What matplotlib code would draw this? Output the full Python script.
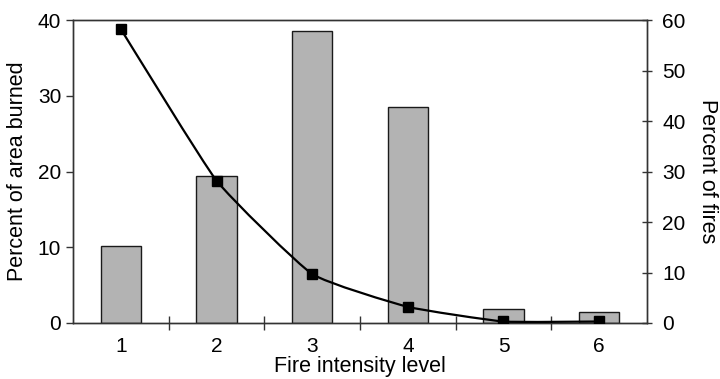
import matplotlib
matplotlib.use("Agg")
import matplotlib.pyplot as plt
from matplotlib.path import Path
import matplotlib.patches as patches
import numpy as np

plt.rcParams['font.family'] = ['Liberation Sans', 'DejaVu Sans']

# data
levels = [1, 2, 3, 4, 5, 6]
area_burned = [10.2, 19.4, 38.5, 28.5, 1.9, 1.5]     # left axis, bars
pct_fires = [58.2, 28.2, 9.7, 3.2, 0.3, 0.3]          # right axis, line

SPINE = '#333333'
FS = 15

fig = plt.figure(figsize=(7.2, 3.79), dpi=100)
ax = fig.add_axes([73/720, 1 - 323/379, 574/720, 303/379])
ax2 = ax.twinx()

ax.bar(levels, area_burned, width=0.42, color='#b3b3b3', edgecolor='#1a1a1a',
       linewidth=1.0, zorder=2)
ax.set_xlim(0.5, 6.5)
ax.set_ylim(0, 40)
ax.set_yticks([0, 10, 20, 30, 40])
ax2.set_ylim(0, 60)
ax2.set_yticks([0, 10, 20, 30, 40, 50, 60])

# smoothed line (Excel style) through the points, catmull-rom -> bezier
x = np.array(levels, dtype=float)
y = np.array(pct_fires, dtype=float)
verts = [(x[0], y[0])]
codes = [Path.MOVETO]
t = 0.07
for i in range(len(x) - 1):
    p0 = (x[i - 1], y[i - 1]) if i > 0 else (x[i], y[i])
    p3 = (x[i + 2], y[i + 2]) if i + 2 < len(x) else (x[i + 1], y[i + 1])
    c1 = (x[i] + (x[i + 1] - p0[0]) * t, y[i] + (y[i + 1] - p0[1]) * t)
    c2 = (x[i + 1] - (p3[0] - x[i]) * t, y[i + 1] - (p3[1] - y[i]) * t)
    c1 = (c1[0], max(c1[1], 0.0))
    c2 = (c2[0], max(c2[1], 0.0))
    verts += [c1, c2, (x[i + 1], y[i + 1])]
    codes += [Path.CURVE4] * 3
ax2.add_patch(patches.PathPatch(Path(verts, codes), facecolor='none',
                                edgecolor='black', lw=1.6, zorder=3))
ax2.plot(levels, pct_fires, ls='none', marker='s', ms=7, color='black', zorder=4)

# ticks
ax.set_xticks(levels)
ax.set_xticklabels([str(v) for v in levels])
ax.set_xticks([1.5, 2.5, 3.5, 4.5, 5.5], minor=True)
ax.tick_params(axis='x', which='major', length=0, pad=10, labelsize=FS)
ax.tick_params(axis='x', which='minor', direction='inout', length=10,
               width=1, color=SPINE)
ax.tick_params(axis='y', direction='out', length=5, width=1, pad=3.5,
               labelsize=FS, color=SPINE)
ax2.tick_params(axis='y', direction='inout', length=7, width=1, pad=7.5,
                labelsize=FS, color=SPINE)

for a in (ax, ax2):
    for s in a.spines.values():
        s.set_color(SPINE)
        s.set_linewidth(1.0)

ax.set_ylabel('Percent of area burned', fontsize=FS + 0.5, va='center')
ax.yaxis.set_label_coords(-55/574, 0.5)
ax2.set_ylabel('Percent of fires', fontsize=FS + 0.5, rotation=270, va='center')
ax2.yaxis.set_label_coords(1 + 61/574, 0.5)
ax.set_xlabel('Fire intensity level', fontsize=FS + 0.5)
ax.xaxis.set_label_coords(0.5, -33/303)

fig.savefig('out.png', dpi=100)
